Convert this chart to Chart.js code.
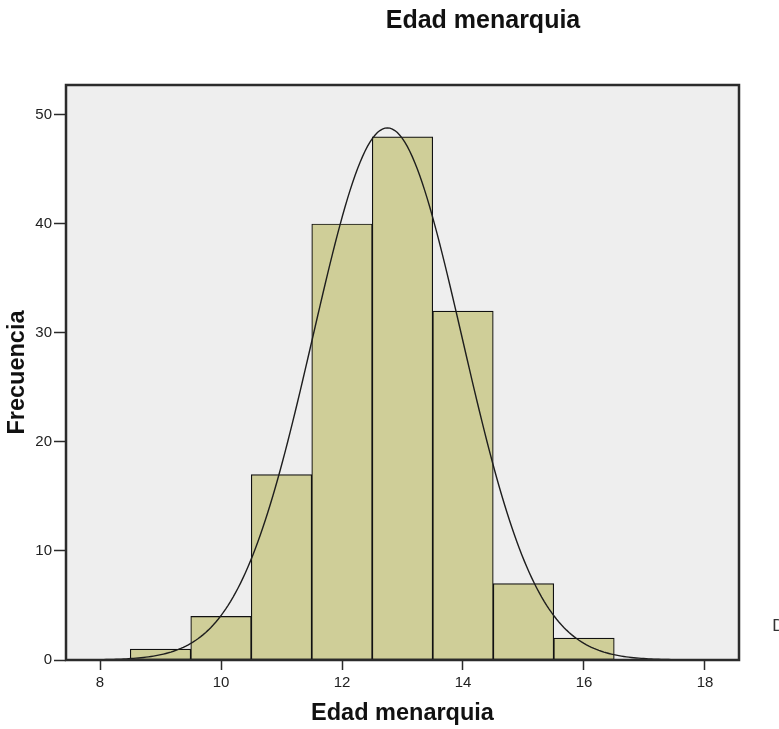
<!DOCTYPE html>
<html>
<head>
<meta charset="utf-8">
<title>Edad menarquia</title>
<script src="https://cdn.jsdelivr.net/npm/chart.js@4/dist/chart.umd.min.js"></script>
<style>
  html, body { margin: 0; padding: 0; background: #ffffff; }
  #wrap { width: 779px; height: 729px; position: relative; }
</style>
</head>
<body>
<div id="wrap"><canvas id="hist" width="779" height="729"></canvas></div>
<script>
// Histogram bins (centre of each one-year class) and their frequencies
const ages = [9, 10, 11, 12, 13, 14, 15, 16];
const frequencies = [1, 4, 17, 40, 48, 32, 7, 2];

// Summary statistics of the sample, used for the fitted normal curve
const meanAge = 12.75;
const sdAge = 1.234;
const sampleSize = 151;
const binWidth = 1;

// Axis ticks
const xTicks = [8, 10, 12, 14, 16, 18];
const yTicks = [0, 10, 20, 30, 40, 50];

const FONT = "'Liberation Sans', Arial, Helvetica, sans-serif";

// Fitted normal density scaled to counts, evaluated over mean ± 4 SD
function normalCurve() {
  const pts = [];
  const from = meanAge - 4 * sdAge, to = meanAge + 4 * sdAge;
  const steps = 240;
  for (let i = 0; i <= steps; i++) {
    const x = from + (to - from) * i / steps;
    const z = (x - meanAge) / sdAge;
    const y = sampleSize * binWidth * Math.exp(-0.5 * z * z) / (sdAge * Math.sqrt(2 * Math.PI));
    pts.push({ x, y });
  }
  return pts;
}

const barData = ages.map((a, i) => ({ x: a, y: frequencies[i] }));

// Grey plot background, frame, title and the statistics box
const decorations = {
  id: 'decorations',
  beforeDatasetsDraw(chart) {
    const { ctx, chartArea: a } = chart;
    ctx.save();
    ctx.fillStyle = '#eeeeee';
    ctx.fillRect(a.left, a.top, a.right - a.left, a.bottom - a.top);
    ctx.restore();
  },
  afterDatasetsDraw(chart) {
    const { ctx, chartArea: a } = chart;
    ctx.save();
    ctx.strokeStyle = '#2b2b2b';
    ctx.lineWidth = 2.5;
    ctx.strokeRect(a.left, a.top, a.right - a.left, a.bottom - a.top);
    ctx.restore();
  },
  afterDraw(chart) {
    const { ctx } = chart;
    ctx.save();
    ctx.fillStyle = '#111111';
    ctx.font = 'bold 25px ' + FONT;
    ctx.textAlign = 'center';
    ctx.textBaseline = 'alphabetic';
    ctx.fillText('Edad menarquia', 483, 28);

    ctx.fillStyle = '#333333';
    ctx.font = '17px ' + FONT;
    ctx.textAlign = 'center';
    ctx.fillText('Media =12,75', 836, 611);
    ctx.fillText('Desv. típ. =1,234', 836, 631);
    ctx.fillText('N =151', 836, 651);
    ctx.restore();
  }
};

new Chart(document.getElementById('hist'), {
  type: 'bar',
  data: {
    datasets: [
      {
        type: 'line',
        label: 'Normal',
        data: normalCurve(),
        borderColor: '#1e1e1e',
        borderWidth: 1.4,
        pointRadius: 0,
        tension: 0,
        fill: false,
        order: 0
      },
      {
        type: 'bar',
        label: 'Frecuencia',
        data: barData,
        backgroundColor: '#cfce98',
        borderColor: '#111111',
        borderWidth: 1.2,
        borderSkipped: false,
        barPercentage: 1,
        categoryPercentage: 1,
        order: 1
      }
    ]
  },
  options: {
    responsive: false,
    animation: false,
    devicePixelRatio: 1,
    layout: { padding: { top: 85, right: 40, left: 0, bottom: 0 } },
    plugins: {
      legend: { display: false },
      title: { display: false },
      tooltip: { enabled: false }
    },
    scales: {
      x: {
        type: 'linear',
        min: 7.438,
        max: 18.562,
        offset: false,
        afterFit(scale) { scale.height = 69; },
        afterBuildTicks(scale) { scale.ticks = xTicks.map(v => ({ value: v })); },
        border: { display: false },
        grid: {
          offset: false,
          drawOnChartArea: false,
          drawTicks: true,
          tickLength: 10,
          tickWidth: 1.5,
          tickColor: '#2b2b2b'
        },
        ticks: {
          includeBounds: false,
          padding: 4,
          color: '#222222',
          font: { family: FONT, size: 15 }
        },
        title: {
          display: true,
          text: 'Edad menarquia',
          color: '#111111',
          font: { family: FONT, size: 23.5, weight: 'bold' },
          padding: { top: 0, bottom: 1 }
        }
      },
      y: {
        type: 'linear',
        min: 0,
        max: 52.75,
        afterFit(scale) { scale.width = 66; },
        afterBuildTicks(scale) { scale.ticks = yTicks.map(v => ({ value: v })); },
        border: { display: false },
        grid: {
          drawOnChartArea: false,
          drawTicks: true,
          tickLength: 12,
          tickWidth: 1.5,
          tickColor: '#2b2b2b'
        },
        ticks: {
          includeBounds: false,
          padding: 2,
          color: '#222222',
          font: { family: FONT, size: 15 }
        },
        title: {
          display: true,
          text: 'Frecuencia',
          color: '#111111',
          font: { family: FONT, size: 23.5, weight: 'bold' },
          padding: { top: 3, bottom: 0 }
        }
      }
    }
  },
  plugins: [decorations]
});
</script>
</body>
</html>
